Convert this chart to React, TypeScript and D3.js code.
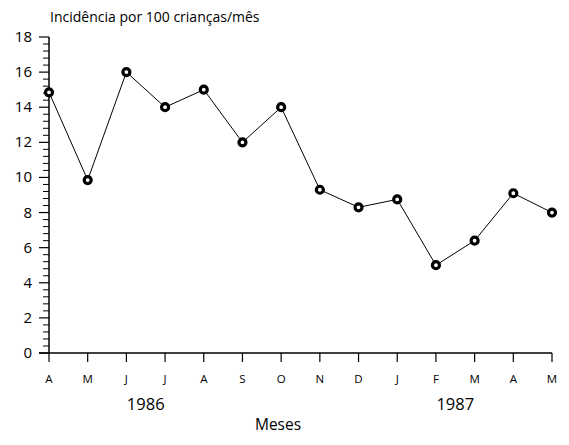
import { useEffect, useRef } from 'react'
import * as d3 from 'd3'

const months = ['A', 'M', 'J', 'J', 'A', 'S', 'O', 'N', 'D', 'J', 'F', 'M', 'A', 'M']
const incidence = [14.85, 9.85, 16, 14, 15, 12, 14, 9.3, 8.3, 8.75, 5, 6.4, 9.1, 8.0]
const yTicks = [0, 2, 4, 6, 8, 10, 12, 14, 16, 18]
const years = [
  { label: '1986', at: 2.5 },
  { label: '1987', at: 10.5 },
]

export default function App() {
  const svgRef = useRef<SVGSVGElement | null>(null)

  useEffect(() => {
    if (!svgRef.current) return
    const svg = d3.select(svgRef.current)
    svg.selectAll('*').remove()

    const font = '"Open Sans", Lato, sans-serif'
    const x = d3.scaleLinear().domain([0, months.length - 1]).range([49, 552])
    const y = d3.scaleLinear().domain([0, 18]).range([353, 37])

    // title
    svg.append('text')
      .attr('x', 50).attr('y', 22)
      .style('font-family', font).style('font-size', '14px')
      .text('Incidência por 100 crianças/mês')

    // y axis
    svg.append('line')
      .attr('x1', x(0)).attr('x2', x(0))
      .attr('y1', y(18)).attr('y2', y(0))
      .attr('stroke', '#000').attr('stroke-width', 1.5)

    const minor = d3.range(0, 18.01, 0.4).filter(v => Math.abs(v / 2 - Math.round(v / 2)) > 0.01)
    svg.selectAll('.minor').data(minor).enter().append('line')
      .attr('x1', x(0) - 6).attr('x2', x(0))
      .attr('y1', d => y(d)).attr('y2', d => y(d))
      .attr('stroke', '#000').attr('stroke-width', 1)

    svg.selectAll('.major').data(yTicks).enter().append('line')
      .attr('x1', x(0) - 10).attr('x2', x(0))
      .attr('y1', d => y(d)).attr('y2', d => y(d))
      .attr('stroke', '#000').attr('stroke-width', 1.2)

    svg.selectAll('.ylab').data(yTicks).enter().append('text')
      .attr('x', 32).attr('y', d => y(d) + 5)
      .attr('text-anchor', 'end')
      .style('font-family', font).style('font-size', '15px')
      .text(d => d)

    // x axis
    svg.append('line')
      .attr('x1', x(0) - 10).attr('x2', x(months.length - 1))
      .attr('y1', y(0)).attr('y2', y(0))
      .attr('stroke', '#000').attr('stroke-width', 1.5)

    svg.selectAll('.xtick').data(months).enter().append('line')
      .attr('x1', (_, i) => x(i)).attr('x2', (_, i) => x(i))
      .attr('y1', y(0)).attr('y2', y(0) + 9)
      .attr('stroke', '#000').attr('stroke-width', 1.2)

    svg.selectAll('.xlab').data(months).enter().append('text')
      .attr('x', (_, i) => x(i)).attr('y', 383)
      .attr('text-anchor', 'middle')
      .style('font-family', font).style('font-size', '11.5px')
      .text(d => d)

    svg.selectAll('.year').data(years).enter().append('text')
      .attr('x', d => x(d.at)).attr('y', 410)
      .attr('text-anchor', 'middle')
      .style('font-family', font).style('font-size', '16.5px')
      .text(d => d.label)

    svg.append('text')
      .attr('x', 278).attr('y', 430)
      .attr('text-anchor', 'middle')
      .style('font-family', font).style('font-size', '15.5px')
      .text('Meses')

    // series
    const line = d3.line<number>().x((_, i) => x(i)).y(d => y(d))
    svg.append('path')
      .datum(incidence)
      .attr('d', line)
      .attr('fill', 'none').attr('stroke', '#000').attr('stroke-width', 1)

    svg.selectAll('.pt').data(incidence).enter().append('circle')
      .attr('cx', (_, i) => x(i)).attr('cy', d => y(d))
      .attr('r', 3.5)
      .attr('fill', '#fff').attr('stroke', '#000').attr('stroke-width', 3.2)
  }, [])

  return (
    <svg ref={svgRef} width={569} height={445} style={{ position: 'absolute', left: 0, top: 0 }} />
  )
}
